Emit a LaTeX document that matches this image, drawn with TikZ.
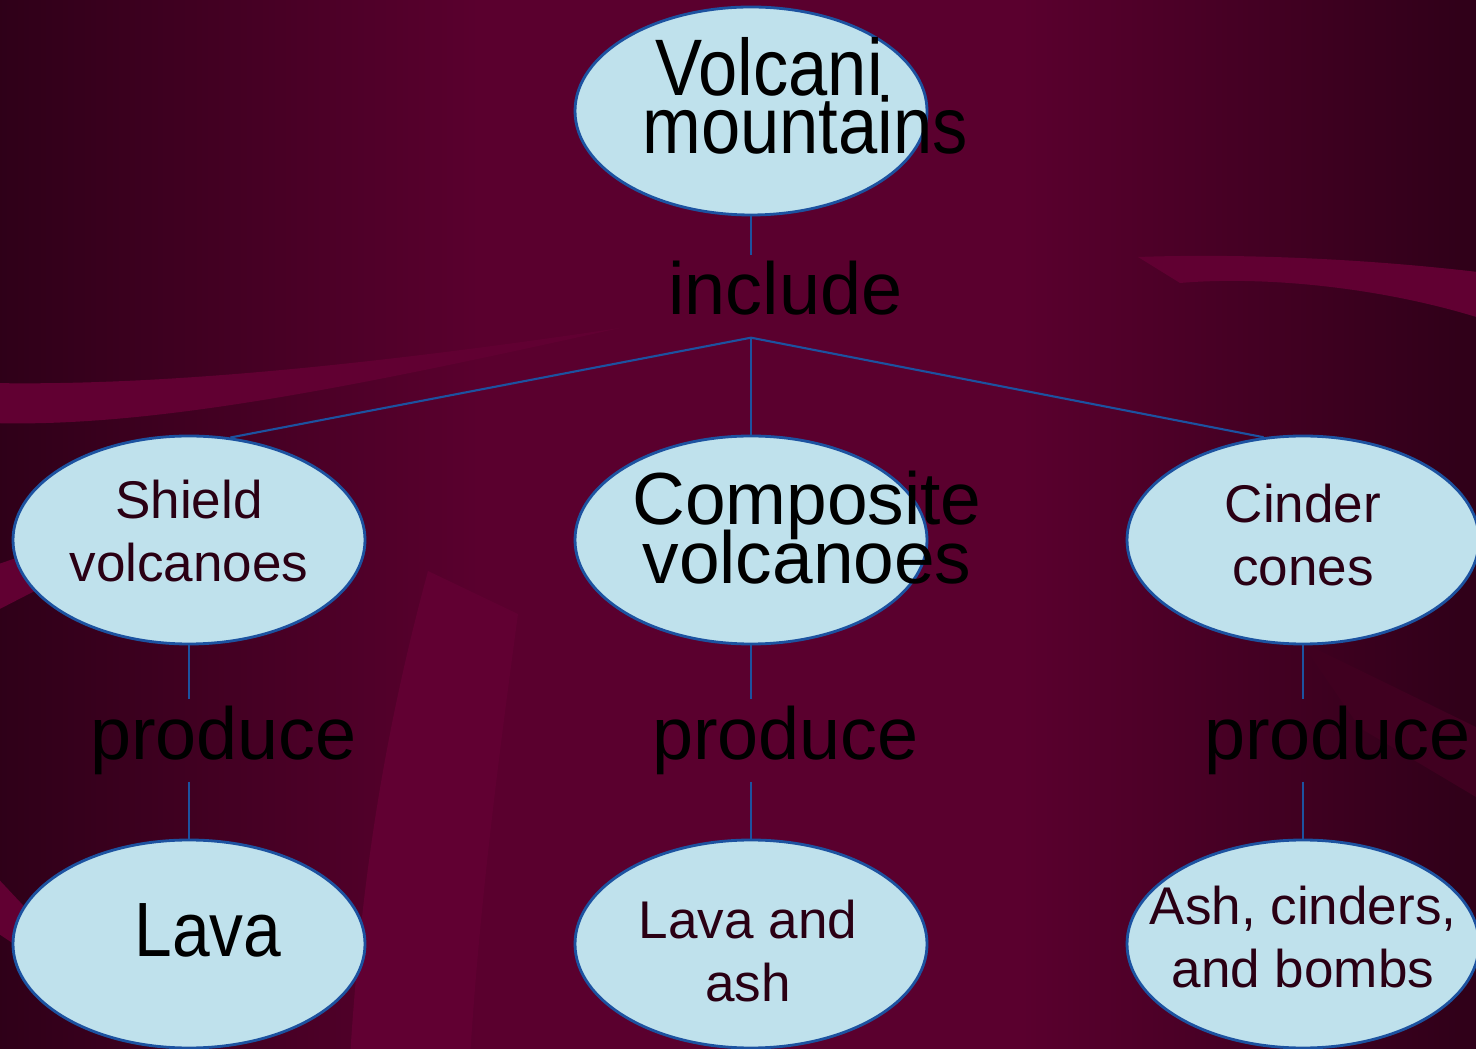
\documentclass[tikz,border=0pt]{standalone}
\usepackage{fontspec}
\setmainfont{Liberation Sans}
\newfontfamily\mapfont{Liberation Sans}
\newfontfamily\mapfontnarrow[FakeStretch=0.88]{Liberation Sans}
\newfontfamily\mapfontslim[FakeStretch=0.99]{Liberation Sans}
\usetikzlibrary{shapes.geometric,positioning}

\definecolor{bgdark}{RGB}{46,0,24}
\definecolor{bgmid}{RGB}{90,0,46}
\definecolor{bgband}{RGB}{97,0,50}
\definecolor{bgdeep}{RGB}{64,0,32}
\definecolor{bubblefill}{RGB}{191,225,236}
\definecolor{bubbleline}{RGB}{28,82,160}
\definecolor{smalltext}{RGB}{42,0,20}

\newcommand{\txtsmall}{\mapfont\fontsize{15.1pt}{17.9pt}\selectfont}
\newcommand{\txtverb}{\mapfont\fontsize{21pt}{24pt}\selectfont}
\newcommand{\txttop}{\mapfontnarrow\fontsize{22.8pt}{16.5pt}\selectfont\lineskiplimit=-100pt}
\newcommand{\txtcomp}{\mapfontslim\fontsize{21pt}{16.8pt}\selectfont\lineskiplimit=-100pt}
\newcommand{\txtlava}{\mapfontnarrow\fontsize{21.9pt}{24pt}\selectfont}

\begin{document}
\begin{tikzpicture}[node distance=4cm]
        % Stili
        \tikzstyle{bubble} = [draw=bubbleline, line width=0.8pt, fill=bubblefill, ellipse, minimum width=3.52cm, minimum height=2.08cm, inner sep=0pt]
        \tikzstyle{link} = [draw=bubbleline, line width=0.6pt]
        \tikzstyle{linkword} = [inner sep=0pt, text height=0.59cm, text depth=0.22cm, font=\txtverb]
        \tikzstyle{bigtxt} = [anchor=north, align=center, inner sep=0pt]
        \tikzstyle{smalltxt} = [anchor=north, align=center, inner sep=0pt, text=smalltext, font=\txtsmall]

        \useasboundingbox (0,0) rectangle (14.76,10.48);

        % --- Sfondo ---
        \fill [left color=bgdark, right color=bgmid] (-0.1,-0.1) rectangle (4.8,10.58);
        \fill [bgmid] (4.79,-0.1) rectangle (10.21,10.58);
        \fill [left color=bgmid, right color=bgdark] (10.2,-0.1) rectangle (14.86,10.58);
        % fasce chiare
        \fill [bgband] (-0.1,6.65) .. controls (1.5,6.62) and (3.5,6.8) .. (6.2,7.2) .. controls (3.5,6.6) and (1.5,6.2) .. (-0.1,6.25) -- cycle;
        \fill [bgband] (-0.1,4.81) -- (0.6,5.05) -- (0.6,4.7) -- (-0.1,4.34) -- cycle;
        \fill [bgband] (11.38,7.91) .. controls (12.5,7.95) and (13.8,7.88) .. (14.86,7.75) -- (14.86,7.28) .. controls (13.8,7.62) and (12.6,7.72) .. (11.8,7.65) -- cycle;
        \fill [bgband] (4.28,4.77) .. controls (3.8,3.0) and (3.6,1.5) .. (3.5,-0.1) -- (4.7,-0.1) .. controls (4.8,1.5) and (5.0,3.0) .. (5.18,4.34) -- cycle;
        \fill [bgband] (-0.1,1.78) -- (0.35,1.3) -- (0.35,0.9) -- (-0.1,1.2) -- cycle;
        % fascia scura a destra
        \fill [bgdeep] (13.0,4.07) -- (14.86,3.16) -- (14.86,2.45) -- (13.6,3.2) -- cycle;

        % --- Concetti ---
        \node [bubble] (volcano) at (7.51,9.37) {};
        \node [bubble, below of=volcano, node distance=4.29cm] (composite) {};
        \node [bubble, left of=composite, node distance=5.62cm] (shield) {};
        \node [bubble, right of=composite, node distance=5.52cm] (cinder) {};
        \node [bubble, below of=shield, node distance=4.04cm] (lava) {};
        \node [bubble, below of=composite, node distance=4.04cm] (lava_ash) {};
        \node [bubble, below of=cinder, node distance=4.04cm] (ash_bombs) {};

        % Testi dei concetti
        \node [bigtxt, font=\txttop] (volcano_txt) at ([xshift=0.36cm, yshift=0.74cm]volcano.center) {Volcani\kern0.36cm\\\kern0.36cm mountains};
        \node [bigtxt, font=\txtcomp] (composite_txt) at ([xshift=0.56cm, yshift=0.70cm]composite.center) {Composite\\volcanoes};
        \node [smalltxt] (shield_txt) at ([yshift=0.61cm]shield.center) {Shield\\volcanoes};
        \node [smalltxt] (cinder_txt) at ([yshift=0.57cm]cinder.center) {Cinder\\cones};
        \node [bigtxt, font=\txtlava] (lava_txt) at ([xshift=0.19cm, yshift=0.41cm]lava.center) {Lava};
        \node [smalltxt] (lava_ash_txt) at ([xshift=-0.03cm, yshift=0.45cm]lava_ash.center) {Lava and\\ash};
        \node [smalltxt] (ash_bombs_txt) at ([yshift=0.59cm]ash_bombs.center) {Ash, cinders,\\and bombs};

        % --- Parole di collegamento ---
        \node [linkword, below of=volcano, node distance=1.855cm, xshift=0.345cm] (include) {include};
        \node [linkword, below of=shield, node distance=2.005cm, xshift=0.345cm] (produce_l) {produce};
        \node [linkword, below of=composite, node distance=2.005cm, xshift=0.345cm] (produce_c) {produce};
        \node [linkword, below of=cinder, node distance=2.005cm, xshift=0.345cm] (produce_r) {produce};

        % --- Collegamenti ---
        \draw [link] (volcano) -- (volcano |- include.north);
        \draw [link] (volcano |- include.south) coordinate (fork) -- (composite);
        \draw [link] (fork) -- (shield.68);
        \draw [link] (fork) -- (cinder.111);

        \draw [link] (shield) -- (shield |- produce_l.north);
        \draw [link] (shield |- produce_l.south) -- (lava);
        \draw [link] (composite) -- (composite |- produce_c.north);
        \draw [link] (composite |- produce_c.south) -- (lava_ash);
        \draw [link] (cinder) -- (cinder |- produce_r.north);
        \draw [link] (cinder |- produce_r.south) -- (ash_bombs);

\end{tikzpicture}
\end{document}
